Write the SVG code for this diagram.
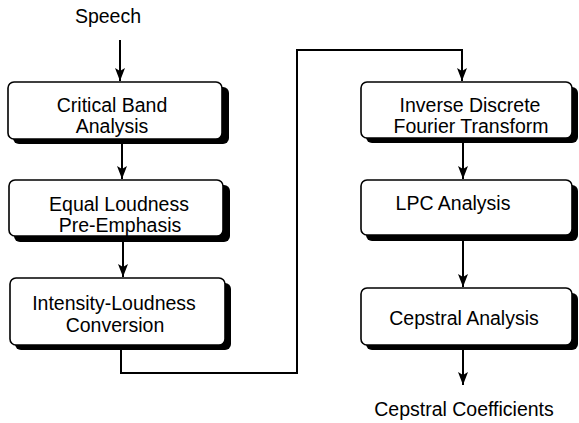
<svg xmlns="http://www.w3.org/2000/svg" width="579" height="423" viewBox="0 0 579 423">
<style>
.box{fill:#fff;stroke:#000;stroke-width:1.6}
.sh{fill:#000}
.t{font-family:"Liberation Sans",Arial,sans-serif;font-size:19.5px;fill:#000;text-anchor:middle}
.c{fill:none;stroke:#000;stroke-width:2}
</style>
<defs>
<marker id="ah" viewBox="0 0 13 10" refX="13" refY="5" markerWidth="13" markerHeight="10" markerUnits="userSpaceOnUse" orient="auto">
<path d="M0,0 L3,5 L0,10 L13,5 Z" fill="#000"/>
</marker>
</defs>
<rect width="579" height="423" fill="#fff"/>
<g id="connectors">
<line class="c" x1="120" y1="40" x2="120" y2="81" marker-end="url(#ah)"/>
<line class="c" x1="122" y1="140" x2="122" y2="179" marker-end="url(#ah)"/>
<line class="c" x1="123" y1="236" x2="123" y2="277" marker-end="url(#ah)"/>
<polyline class="c" points="121,345 121,373 297,373 297,50 462,50 462,81" marker-end="url(#ah)"/>
<line class="c" x1="463" y1="138" x2="463" y2="179" marker-end="url(#ah)"/>
<line class="c" x1="463" y1="235" x2="463" y2="287" marker-end="url(#ah)"/>
<line class="c" x1="463" y1="345" x2="463" y2="385" marker-end="url(#ah)"/>
</g>
<g id="speech"><text class="t" x="108" y="23">Speech</text></g>
<g id="critical-band">
<rect class="sh" x="13" y="87" width="216" height="57" rx="6"/>
<rect class="box" x="8" y="82" width="214" height="57" rx="6"/>
<text class="t" x="112" y="112">Critical Band</text>
<text class="t" x="112" y="133">Analysis</text>
</g>
<g id="equal-loudness">
<rect class="sh" x="14" y="185" width="216" height="57" rx="6"/>
<rect class="box" x="9" y="180" width="214" height="56" rx="6"/>
<text class="t" x="119" y="211">Equal Loudness</text>
<text class="t" x="120" y="232">Pre-Emphasis</text>
</g>
<g id="intensity-loudness">
<rect class="sh" x="15" y="283" width="216" height="67" rx="6"/>
<rect class="box" x="10" y="278" width="215" height="67" rx="6"/>
<text class="t" x="114" y="310">Intensity-Loudness</text>
<text class="t" x="115" y="332">Conversion</text>
</g>
<g id="idft">
<rect class="sh" x="366" y="87" width="212" height="56" rx="6"/>
<rect class="box" x="361" y="82" width="211" height="56" rx="6"/>
<text class="t" x="470" y="112">Inverse Discrete</text>
<text class="t" x="471" y="133">Fourier Transform</text>
</g>
<g id="lpc">
<rect class="sh" x="366" y="185" width="212" height="56" rx="6"/>
<rect class="box" x="361" y="180" width="211" height="55" rx="6"/>
<text class="t" x="453" y="210">LPC Analysis</text>
</g>
<g id="cepstral">
<rect class="sh" x="366" y="293" width="212" height="57" rx="6"/>
<rect class="box" x="361" y="288" width="211" height="57" rx="6"/>
<text class="t" x="464" y="325">Cepstral Analysis</text>
</g>
<g id="coefficients"><text class="t" x="464" y="416">Cepstral Coefficients</text></g>
</svg>
